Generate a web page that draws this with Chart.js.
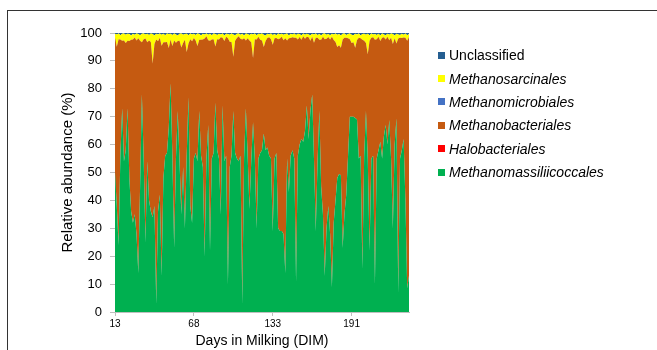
<!DOCTYPE html>
<html>
<head>
<meta charset="utf-8">
<script src="https://cdn.jsdelivr.net/npm/chart.js@4/dist/chart.umd.min.js"></script>
<style>
  html, body { margin: 0; padding: 0; background: #fff; }
  #wrap { position: relative; width: 657px; height: 350px; overflow: hidden; font-family: "Liberation Sans", Arial, sans-serif; }
  #frame { position: absolute; left: 7px; top: 10px; width: 800px; height: 500px; border-top: 1px solid #333; border-left: 1px solid #333; }
  canvas { position: absolute; left: 0; top: 0; }
  .lg { position: absolute; left: 438px; height: 18px; font-size: 14px; line-height: 18px; color: #000; white-space: nowrap; }
  .lg span.sw { position: absolute; left: 0; top: 5.5px; width: 7px; height: 7px; }
  .lg span.tx { position: absolute; left: 11px; top: 0; }
</style>
</head>
<body>
<div id="wrap">
  <div id="frame"></div>
  <canvas id="c" width="657" height="350"></canvas>
</div>
<script>
// X axis tick labels (Days in Milking) shown at sample positions
const tickLabels = ['13', '68', '133', '191'];
const tickIndices = [0, 44, 88, 132];

// Series (relative abundance, %), one value per sample, bottom to top of stack
const methanomassiliicoccales = [
  50,38,24,56,73,54,58,73,48,36,
  32,35,28,14,45,78,55,25,54,40,
  36,34,38,3,36,42,13,48,56,57,
  66,82,56,23,55,72,54,35,52,30,
  56,77,38,32,55,57,54,72,56,52,
  20,55,67,22,55,57,75,58,55,35,
  74,54,56,10,52,56,72,57,55,54,
  56,3,55,73,56,37,54,68,55,30,
  55,57,58,64,58,59,56,55,29,55,
  57,30,29,29,28,14,55,43,56,58,
  55,11,56,60,62,61,65,74,62,72,
  78,55,29,54,72,45,35,13,30,38,
  28,9,32,40,48,49.5,49,23,35,42,
  56,70,70,70,69.5,69,55,56,15.6,56,
  72,55,22,55,56,10,55,58,61,55,
  63,67,60,68.8,55,30,60,69.4,7,55,
  58,62,40,8.5,13];

const halobacteriales = [
  0,0,0,0,0,0,0,0,0,0,
  0,0,0,0,0,0,0,0,0,0,
  0,0,0,0,0,0,0,0,0,0,
  0,0,0,0,0,0,0,0,0,0,
  0,0,0,0,0,0,0,0,0,0,
  0,0,0,0,0,0,0,0,0,0,
  0,0,0,0,0,0,0,0,0,0,
  0,0,0,0,0,0,0,0,0,0,
  0,0,0,0,0,0,0,0,0,0,
  0,0,0,0,0,0,0,0,0,0,
  0,0,0,0,0,0,0,0,0,0,
  0,0,0,0,0,0,0,0,0,0,
  0,0,0,0,0,0,0,0,0,0,
  0,0,0,0,0,0,0,0,0,0,
  0,0,0,0,0,0,0,0,0,0,
  0,0,0,0,0,0,0,0,0,0,
  0,0,0,0,0];

const methanobacteriales = [
  48.2,57.1,73.8,41.7,24.2,43.3,38.4,24.2,49.1,61.6,
  65.7,63.4,69.3,84.1,52.2,18.7,42.8,73,42.7,57.3,
  60.8,55.1,58.1,94.7,61,56.3,82.4,48.7,40.7,39.8,
  28.6,15.7,39.3,74.3,41.5,25.1,43.2,59.8,44.4,67.6,
  37.2,19.2,59.8,65,43.2,40.3,41.3,25.6,41.6,45.7,
  78,43.8,30.4,75.2,42.7,40.8,20.2,39.8,42.7,63.5,
  24.3,43.1,42.7,88.1,44.9,40.8,19.5,40.2,43.2,44.8,
  41.9,94.7,43.1,24.3,42.1,60.3,42.7,23,42.8,67.7,
  43.7,40.6,39.3,31,39.1,39.2,42.5,42.8,66.8,43.1,
  41.2,67.8,69,69.7,69.4,84.1,42.3,55.1,42.2,40.5,
  43.3,87.3,41.7,38.6,35.6,37.8,32.9,24.7,36.5,25.2,
  20.7,41.5,69.3,44.3,25.6,52.6,63.7,84.8,67.9,60.6,
  69.7,89.7,65.5,56.8,47,46.1,45.7,74.7,63.3,56.3,
  42.1,27.8,26.4,26.7,25.2,28.5,43.3,42.1,82,41.2,
  24.4,37.4,75.2,43.3,42.5,87.6,42.8,40.7,36.1,43.3,
  35.5,30.7,38.7,28.6,43.3,66.1,38.1,26.8,91,43.3,
  40.2,36.4,58.3,88.7,85.6];

const methanomicrobiales = [
  0,0,0,0,0,0,0,0,0,0,
  0,0,0,0,0,0,0,0,0,0,
  0,0,0,0,0,0,0,0,0,0,
  0,0,0,0,0,0,0,0,0,0,
  0,0,0,0,0,0,0,0,0,0,
  0,0,0,0,0,0,0,0,0,0,
  0,0,0,0,0,0,0,0,0,0,
  0,0,0,0,0,0,0,0,0,0,
  0,0,0,0,0,0,0,0,0,0,
  0,0,0,0,0,0,0,0,0,0,
  0,0,0,0,0,0,0,0,0,0,
  0,0,0,0,0,0,0,0,0,0,
  0,0,0,0,0,0,0,0,0,0,
  0,0,0,0,0,0,0,0,0,0,
  0,0,0,0,0,0,0,0,0,0,
  0,0,0,0,0,0,0,0,0,0,
  0,0,0,0,0];

const methanosarcinales = [
  1.5,4.4,2,1.5,2.5,2.5,3,2.5,2.5,1.5,
  2,1,2.5,1.5,2,3,2,1.5,3,2,
  3,10.5,3,2,2.5,1.5,4,3,2.5,3,
  5,2,4,2.5,3,2,2.5,5,3,2,
  6.5,3,2,2.5,1.5,2,4.5,2,1.5,2,
  1.5,1,2,2.5,1.5,2,4.4,1.5,2,1,
  1.5,2,1,1.5,2.5,3,8,2,1.5,1,
  1.5,2,1,2.5,1.5,2,3,8.5,2,1.5,
  1,2,2.5,4.4,2,1.5,1,2,3.5,1.5,
  1,2,1.5,1,2,1.5,2.5,1,1.5,1,
  1.5,1,2,1,1.5,1,1.5,1,1,2,
  1,3,1.5,1,2,1.5,1,2,1.5,1,
  1.5,1,2,3,4.4,4,4.4,2,1.5,1,
  1.5,2,3,2.5,5,2,1.5,1,2,2.5,
  3,7.3,2,1.5,1,2,1.5,1,2,1.5,
  1,1.5,1,2,1.5,3.5,1,3.5,1.5,1,
  1.5,1,1.5,2,1];

const unclassified = [
  0.3,0.5,0.2,0.8,0.3,0.2,0.6,0.3,0.4,0.9,
  0.3,0.6,0.2,0.4,0.8,0.3,0.2,0.5,0.3,0.7,
  0.2,0.4,0.9,0.3,0.5,0.2,0.6,0.3,0.8,0.2,
  0.4,0.3,0.7,0.2,0.5,0.9,0.3,0.2,0.6,0.4,
  0.3,0.8,0.2,0.5,0.3,0.7,0.2,0.4,0.9,0.3,
  0.5,0.2,0.6,0.3,0.8,0.2,0.4,0.7,0.3,0.5,
  0.2,0.9,0.3,0.4,0.6,0.2,0.5,0.8,0.3,0.2,
  0.6,0.3,0.9,0.2,0.4,0.7,0.3,0.5,0.2,0.8,
  0.3,0.4,0.2,0.6,0.9,0.3,0.5,0.2,0.7,0.4,
  0.8,0.2,0.5,0.3,0.6,0.4,0.2,0.9,0.3,0.5,
  0.2,0.7,0.3,0.4,0.9,0.2,0.6,0.3,0.5,0.8,
  0.3,0.5,0.2,0.7,0.4,0.9,0.3,0.2,0.6,0.4,
  0.8,0.3,0.5,0.2,0.6,0.4,0.9,0.3,0.2,0.7,
  0.4,0.2,0.6,0.8,0.3,0.5,0.2,0.9,0.4,0.3,
  0.6,0.3,0.8,0.2,0.5,0.4,0.7,0.3,0.9,0.2,
  0.5,0.8,0.3,0.6,0.2,0.4,0.9,0.3,0.5,0.7,
  0.3,0.6,0.2,0.8,0.4];

// sample index categories
const samples = methanomassiliicoccales.map((_, i) => i);

const seriesDefs = [
  { label: 'Methanomassiliicoccales', data: methanomassiliicoccales, color: '#00B050', italic: true },
  { label: 'Halobacteriales', data: halobacteriales, color: '#FF0000', italic: true },
  { label: 'Methanobacteriales', data: methanobacteriales, color: '#C55A11', italic: true },
  { label: 'Methanomicrobiales', data: methanomicrobiales, color: '#4472C4', italic: true },
  { label: 'Methanosarcinales', data: methanosarcinales, color: '#FFFF00', italic: true },
  { label: 'Unclassified', data: unclassified, color: '#255E91', italic: false }
];

const FONT = '"Liberation Sans", Arial, sans-serif';

new Chart(document.getElementById('c'), {
  type: 'line',
  data: {
    labels: samples,
    datasets: seriesDefs.map((s, k) => ({
      label: s.label,
      data: s.data,
      backgroundColor: s.color,
      borderColor: s.color,
      borderWidth: 0,
      pointRadius: 0,
      tension: 0,
      fill: k === 0 ? 'origin' : '-1'
    }))
  },
  options: {
    responsive: false,
    animation: false,
    devicePixelRatio: 1,
    layout: { padding: { left: 0, top: 33, right: 248, bottom: 0 } },
    plugins: { legend: { display: false }, tooltip: { enabled: false } },
    scales: {
      x: {
        type: 'category',
        offset: false,
        grid: {
          drawOnChartArea: false, drawTicks: true, tickLength: 4,
          color: ctx => tickIndices.includes(ctx.index) ? '#bfbfbf' : 'rgba(0,0,0,0)'
        },
        border: { display: true, color: '#bfbfbf' },
        ticks: {
          autoSkip: false, maxRotation: 0, minRotation: 0, padding: 2,
          font: { family: FONT, size: 10 }, color: '#000',
          callback: (v, i) => { const k = tickIndices.indexOf(i); return k >= 0 ? tickLabels[k] : ''; }
        },
        title: { display: true, text: 'Days in Milking (DIM)', font: { family: FONT, size: 14 }, color: '#000', padding: { top: 0, bottom: 0.5 } },
        afterFit: s => { s.height = 38; }
      },
      y: {
        stacked: true,
        min: 0, max: 100,
        grid: { drawOnChartArea: false, drawTicks: true, tickLength: 5, color: '#bfbfbf' },
        border: { display: true, color: '#bfbfbf' },
        ticks: { stepSize: 10, padding: 8, font: { family: FONT, size: 13 }, color: '#000' },
        title: { display: true, text: 'Relative abundance (%)', font: { family: FONT, size: 15 }, color: '#000', padding: { top: 59, bottom: 0 } },
        afterFit: s => { s.width = 115; }
      }
    }
  }
});

// Legend (Excel order: reverse of stacking order)
const legendTops = [55, 78.5, 101.8, 125.3, 148.7, 172.2];
const wrap = document.getElementById('wrap');
seriesDefs.slice().reverse().forEach((s, k) => {
  const d = document.createElement('div');
  d.className = 'lg';
  d.style.top = (legendTops[k] - 9) + 'px';
  const sw = document.createElement('span');
  sw.className = 'sw';
  sw.style.background = s.color;
  const tx = document.createElement('span');
  tx.className = 'tx';
  tx.textContent = s.label;
  if (s.italic) tx.style.fontStyle = 'italic';
  d.appendChild(sw); d.appendChild(tx);
  wrap.appendChild(d);
});
</script>
</body>
</html>
